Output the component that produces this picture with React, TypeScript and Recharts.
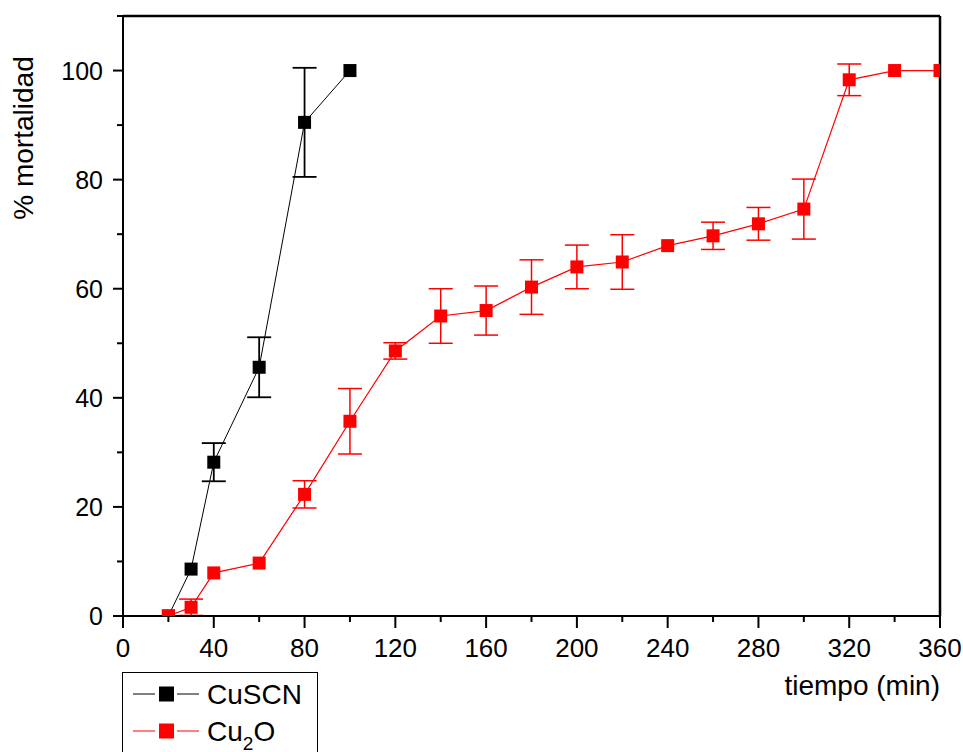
import React from "react";
import { ComposedChart, Line, XAxis, YAxis, ErrorBar } from "recharts";

// tiempo (min) / % mortalidad
const cuscnTime = [20, 30, 40, 60, 80, 100];
const cuscnMort = [0, 8.6, 28.2, 45.6, 90.5, 100];
const cuscnErr = [0, 0, 3.5, 5.5, 10, 0];

const cu2oTime = [20, 30, 40, 60, 80, 100, 120, 140, 160, 180, 200, 220, 240, 260, 280, 300, 320, 340, 360];
const cu2oMort = [0, 1.6, 7.9, 9.7, 22.3, 35.7, 48.6, 55.0, 56.0, 60.3, 64.0, 64.9, 67.9, 69.7, 71.9, 74.6, 98.3, 100, 100];
const cu2oErr = [0, 1.5, 0, 0, 2.5, 6, 1.5, 5, 4.5, 5, 4, 5, 0, 2.5, 3, 5.5, 2.9, 0, 0];

const xTicks = [0, 20, 40, 60, 80, 100, 120, 140, 160, 180, 200, 220, 240, 260, 280, 300, 320, 340, 360];
const yTicks = [0, 10, 20, 30, 40, 50, 60, 70, 80, 90, 100, 110];

const FONT = "'Liberation Sans', Arial, sans-serif";

const toRows = (t: number[], m: number[], e: number[]) =>
  t.map((x, i) => ({ t: x, y: m[i], err: e[i] }));

const series = [
  { name: "CuSCN", sub: null as string | null, tail: "", color: "#000000", width: 1, errWidth: 1.8, data: toRows(cuscnTime, cuscnMort, cuscnErr) },
  { name: "Cu", sub: "2", tail: "O", color: "#ff0000", width: 1.2, errWidth: 1.5, data: toRows(cu2oTime, cu2oMort, cu2oErr) },
];

const BottomTick = (props: any) => {
  const { x, y, payload } = props;
  const major = payload.value % 40 === 0;
  return (
    <g>
      <line x1={x} x2={x} y1={y} y2={y + (major ? 12 : 6)} stroke="#000" strokeWidth={2} />
      {major && (
        <text x={x} y={y + 41} textAnchor="middle" fontSize={26} fontFamily={FONT} fill="#000">
          {payload.value}
        </text>
      )}
    </g>
  );
};

const LeftTick = (props: any) => {
  const { x, y, payload } = props;
  const major = payload.value % 20 === 0 && payload.value <= 100;
  return (
    <g>
      <line x1={x} x2={x - (major ? 10 : 6)} y1={y} y2={y} stroke="#000" strokeWidth={2} />
      {major && (
        <text x={x - 20} y={y + 9} textAnchor="end" fontSize={25} fontFamily={FONT} fill="#000">
          {payload.value}
        </text>
      )}
    </g>
  );
};

const TopTick = (props: any) => {
  const { x, y } = props;
  return <line x1={x} x2={x} y1={y} y2={y + 3} stroke="#000" strokeWidth={1.5} />;
};

const RightTick = (props: any) => {
  const { x, y } = props;
  return <line x1={x} x2={x - 4} y1={y} y2={y} stroke="#000" strokeWidth={1.5} />;
};

const square = (color: string, size: number) => (p: any) => {
  if (p.cx == null || p.cy == null) return <g key={p.index} />;
  return <rect key={p.index} x={p.cx - size / 2} y={p.cy - size / 2} width={size} height={size} fill={color} />;
};

const Legend = () => (
  <div style={{ position: "absolute", left: 122, top: 672, width: 196, height: 100, border: "1.5px solid #000", boxSizing: "border-box", background: "#fff" }}>
    <svg width={196} height={100} style={{ position: "absolute", left: -1.5, top: -1.5 }}>
      {series.map((s, i) => {
        const cy = 22 + i * 37;
        return (
          <g key={s.name}>
            <line x1={11} x2={33} y1={cy} y2={cy} stroke={s.color} strokeWidth={1} />
            <rect x={37} y={cy - 7.5} width={15} height={15} fill={s.color} />
            <line x1={55} x2={77} y1={cy} y2={cy} stroke={s.color} strokeWidth={1} />
            <text x={85} y={cy + 10} fontSize={28} fontFamily={FONT} fill="#000">
              {s.name}
              {s.sub && <tspan fontSize={19} dy={9}>{s.sub}</tspan>}
              {s.sub && <tspan dy={-9}>{s.tail}</tspan>}
            </text>
          </g>
        );
      })}
    </svg>
  </div>
);

export default function App() {
  return (
    <div style={{ position: "absolute", left: 0, top: 0, width: 963, height: 752, overflow: "hidden", background: "#fff" }}>
      <ComposedChart width={963} height={752} margin={{ top: 15, right: 22, bottom: 0, left: 0 }}>
        <XAxis
          xAxisId="bottom"
          dataKey="t"
          type="number"
          domain={[0, 360]}
          ticks={xTicks}
          interval={0}
          allowDataOverflow
          height={136}
          tickSize={0}
          tickMargin={0}
          tickLine={false}
          axisLine={{ stroke: "#000", strokeWidth: 2 }}
          tick={<BottomTick />}
          label={{
            content: (p: any) => {
              const vb = p.viewBox;
              return (
                <text x={vb.x + vb.width} y={vb.y + 79} textAnchor="end" fontSize={28} fontFamily={FONT} fill="#000">
                  tiempo (min)
                </text>
              );
            },
          }}
        />
        <XAxis
          xAxisId="top"
          orientation="top"
          type="number"
          domain={[0, 360]}
          ticks={xTicks}
          interval={0}
          height={1}
          tickSize={0}
          tickMargin={0}
          tickLine={false}
          axisLine={{ stroke: "#000", strokeWidth: 2.5 }}
          tick={<TopTick />}
        />
        <YAxis
          yAxisId="left"
          type="number"
          domain={[0, 110]}
          ticks={yTicks}
          interval={0}
          allowDataOverflow
          width={123}
          tickSize={0}
          tickMargin={0}
          tickLine={false}
          axisLine={{ stroke: "#000", strokeWidth: 2 }}
          tick={<LeftTick />}
          label={{
            content: (p: any) => {
              const vb = p.viewBox;
              const cx = vb.x + 33;
              const cy = vb.y + 122;
              return (
                <text x={cx} y={cy} transform={`rotate(-90 ${cx} ${cy})`} textAnchor="middle" fontSize={28} fontFamily={FONT} fill="#000">
                  % mortalidad
                </text>
              );
            },
          }}
        />
        <YAxis
          yAxisId="right"
          orientation="right"
          type="number"
          domain={[0, 110]}
          ticks={yTicks}
          interval={0}
          width={1}
          tickSize={0}
          tickMargin={0}
          tickLine={false}
          axisLine={{ stroke: "#000", strokeWidth: 2.5 }}
          tick={<RightTick />}
        />
        {series.map((s) => (
          <Line
            key={s.name}
            xAxisId="bottom"
            yAxisId="left"
            data={s.data}
            dataKey="y"
            name={s.name}
            type="linear"
            stroke={s.color}
            strokeWidth={s.width}
            dot={square(s.color, 13)}
            activeDot={false}
            isAnimationActive={false}
          >
            <ErrorBar dataKey="err" width={12} stroke={s.color} strokeWidth={s.errWidth} direction="y" isAnimationActive={false} />
          </Line>
        ))}
      </ComposedChart>
      <Legend />
    </div>
  );
}
